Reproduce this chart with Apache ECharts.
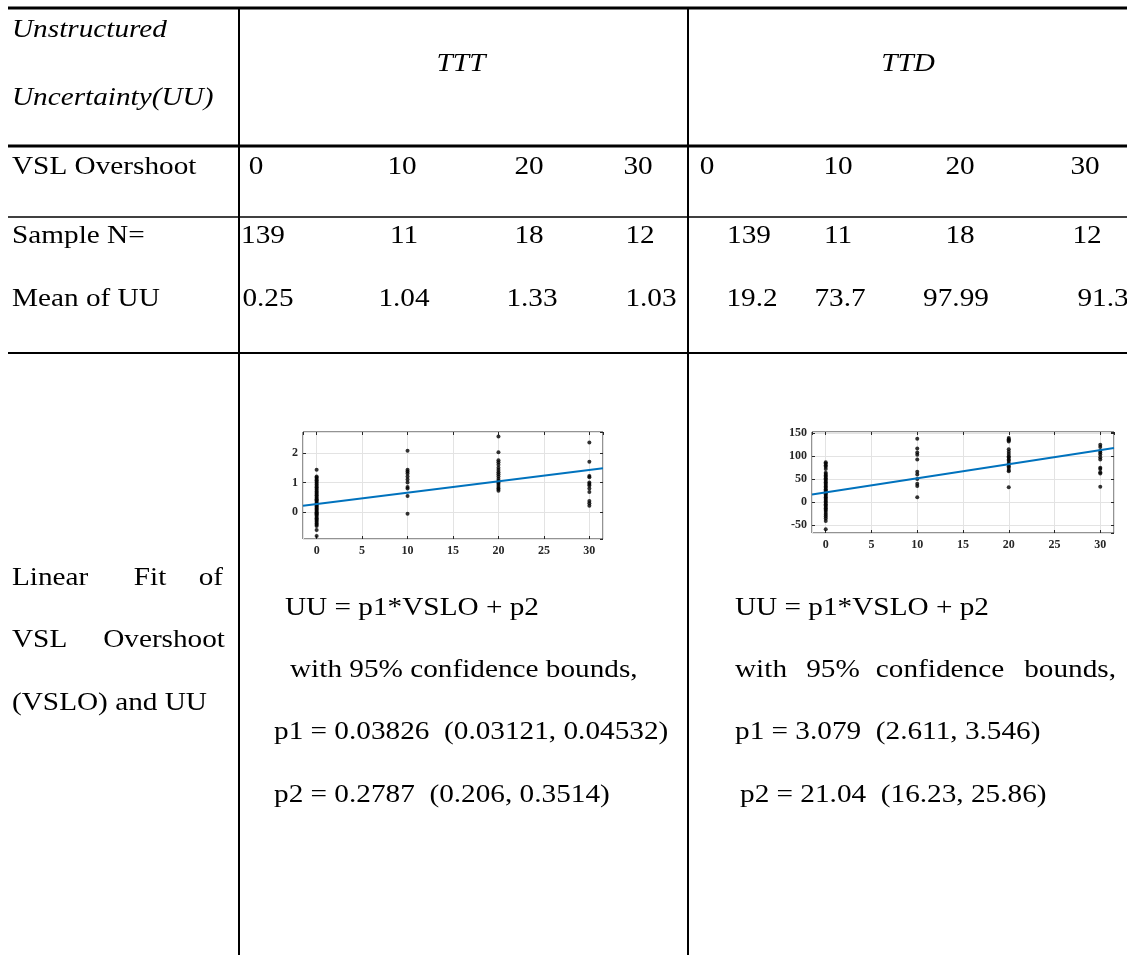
<!DOCTYPE html>
<html><head><meta charset="utf-8">
<script src="https://cdn.jsdelivr.net/npm/echarts@6/dist/echarts.min.js"></script>
<style>html,body{margin:0;padding:0;background:#fff}#c{width:1127px;height:955px}</style>
</head><body><div id="c"></div>
<script>
// ---------- table data ----------
const headerLeft = ['Unstructured', 'Uncertainty(UU)'];
const groups = ['TTT', 'TTD'];
const vslOvershoot = ['0', '10', '20', '30'];
const sampleN_TTT = ['139', '11', '18', '12'];
const sampleN_TTD = ['139', '11', '18', '12'];
const meanUU_TTT = ['0.25', '1.04', '1.33', '1.03'];
const meanUU_TTD = ['19.2', '73.7', '97.99', '91.3'];
const rowLabels = ['VSL Overshoot', 'Sample N=', 'Mean of UU'];
// fit results: [estimate, lower, upper]
const p1_TTT = ['0.03826', '0.03121', '0.04532'];
const p2_TTT = ['0.2787', '0.206', '0.3514'];
const p1_TTD = ['3.079', '2.611', '3.546'];
const p2_TTD = ['21.04', '16.23', '25.86'];

// ---------- scatter data (VSL overshoot -> UU) ----------
const ttt_x0 = [-0.8, -0.6, -0.46, -0.42, -0.38, -0.33, -0.29, -0.24, -0.2, -0.16, -0.11, -0.07, -0.03, 0.0, 0.04, 0.08, 0.12, 0.15, 0.19, 0.23, 0.27, 0.31, 0.35, 0.4, 0.44, 0.48, 0.52, 0.57, 0.61, 0.66, 0.7, 0.75, 0.79, 0.84, 0.88, 0.93, 0.98, 1.03, 1.08, 1.12, 1.17, 1.2, 1.43];
const ttt_x10 = [2.07, 1.43, 1.37, 1.3, 1.2, 1.1, 1.0, 0.85, 0.8, 0.55, -0.05];
const ttt_x20 = [2.55, 2.02, 1.75, 1.68, 1.6, 1.5, 1.42, 1.35, 1.28, 1.2, 1.12, 1.05, 1.0, 0.95, 0.88, 0.82, 0.78, 0.72];
const ttt_x30 = [2.35, 1.7, 1.22, 1.18, 1.0, 0.95, 0.9, 0.8, 0.68, 0.38, 0.3, 0.22];

const ttd_x0 = [-60, -42, -36, -32, -28, -24, -20, -17, -14, -11, -8, -5, -2, 1, 4, 7, 10, 13, 16, 19, 22, 25, 28, 31, 34, 37, 40, 43, 46, 49, 52, 55, 58, 61, 64, 72, 77, 80, 84, 87];
const ttd_x10 = [138, 117, 108, 103, 93, 66, 60, 50, 40, 35, 10];
const ttd_x20 = [140, 137, 135, 132, 115, 110, 105, 100, 97, 93, 90, 85, 82, 78, 75, 70, 67, 32];
const ttd_x30 = [125, 120, 112, 108, 104, 98, 93, 75, 72, 65, 62, 33];

const xLevels = [0, 10, 20, 30];

function pts(levels, cols) {
  const out = [];
  levels.forEach((lv, i) => cols[i].forEach(v => out.push([lv, v])));
  return out;
}
const tttPts = pts(xLevels, [ttt_x0, ttt_x10, ttt_x20, ttt_x30]);
const ttdPts = pts(xLevels, [ttd_x0, ttd_x10, ttd_x20, ttd_x30]);

const XMIN = -1.5, XMAX = 31.5;
function fitLine(p1, p2) {
  const a = parseFloat(p1[0]), b = parseFloat(p2[0]);
  return [[XMIN, a * XMIN + b], [XMAX, a * XMAX + b]];
}

// ---------- layout helpers ----------
const FONT = 'Liberation Serif';
const FS = 25, SX = 1.17;
function txt(s, x, y, align, italic) {
  return {
    type: 'text', x: x, y: y, scaleX: SX, z: 10,
    style: {
      text: s, fill: '#000',
      font: (italic ? 'italic ' : '') + FS + 'px "' + FONT + '"',
      textAlign: align || 'left', textVerticalAlign: 'middle'
    }
  };
}
function hline(y, x1, x2, w) {
  return { type: 'line', shape: { x1: x1, y1: y, x2: x2, y2: y }, style: { stroke: '#000', lineWidth: w }, z: 10 };
}
function vline(x, y1, y2, w) {
  return { type: 'line', shape: { x1: x, y1: y1, x2: x, y2: y2 }, style: { stroke: '#000', lineWidth: w }, z: 10 };
}

const g = [];
// lines
g.push(hline(8, 8, 1127, 3));
g.push(hline(146, 8, 1127, 3));
g.push(hline(217, 8, 1127, 1.5));
g.push(hline(353, 8, 1127, 2));
g.push(vline(239, 9, 955, 2));
g.push(vline(688, 9, 955, 2));

// header
g.push(txt(headerLeft[0], 12, 30, 'left', true));
g.push(txt(headerLeft[1], 12, 98, 'left', true));
g.push(txt(groups[0], 461, 64, 'center', true));
g.push(txt(groups[1], 908, 64, 'center', true));

// row labels
const rowY = [167, 236, 299];
rowLabels.forEach((s, i) => g.push(txt(s, 12, rowY[i], 'left')));

// cell x centres
const cxTTT = [[256, 402, 529, 638], [263, 404, 529, 640], [268, 404, 532, 651]];
const cxTTD = [[707, 838, 960, 1085], [749, 838, 960, 1087], [752, 840, 956, 1103]];
const tttRows = [vslOvershoot, sampleN_TTT, meanUU_TTT];
const ttdRows = [vslOvershoot, sampleN_TTD, meanUU_TTD];
tttRows.forEach((row, r) => row.forEach((s, c) => g.push(txt(s, cxTTT[r][c], rowY[r], 'center'))));
ttdRows.forEach((row, r) => row.forEach((s, c) => g.push(txt(s, cxTTD[r][c], rowY[r], 'center'))));

// linear fit label column (justified)
g.push(txt('Linear', 12, 578, 'left'));
g.push(txt('Fit', 150, 578, 'center'));
g.push(txt('of', 223, 578, 'right'));
g.push(txt('VSL', 12, 640, 'left'));
g.push(txt('Overshoot', 225, 640, 'right'));
g.push(txt('(VSLO) and UU', 12, 703, 'left'));

// fit texts
const eq = 'UU = p1*VSLO + p2';
g.push(txt(eq, 285, 608, 'left'));
g.push(txt('with 95% confidence bounds,', 290, 670, 'left'));
g.push(txt('p1 = ' + p1_TTT[0] + '  (' + p1_TTT[1] + ', ' + p1_TTT[2] + ')', 274, 732, 'left'));
g.push(txt('p2 = ' + p2_TTT[0] + '  (' + p2_TTT[1] + ', ' + p2_TTT[2] + ')', 274, 795, 'left'));

g.push(txt(eq, 735, 608, 'left'));
g.push(txt('with', 735, 670, 'left'));
g.push(txt('95%', 833, 670, 'center'));
g.push(txt('confidence', 940, 670, 'center'));
g.push(txt('bounds,', 1116, 670, 'right'));
g.push(txt('p1 = ' + p1_TTD[0] + '  (' + p1_TTD[1] + ', ' + p1_TTD[2] + ')', 735, 732, 'left'));
g.push(txt('p2 = ' + p2_TTD[0] + '  (' + p2_TTD[1] + ', ' + p2_TTD[2] + ')', 740, 795, 'left'));

// ---------- plots ----------
const tickFont = { fontFamily: FONT, fontWeight: 'bold', fontSize: 12, color: '#262626' };
function xAx(gi, pos) {
  const main = pos === 'bottom';
  return {
    type: 'value', gridIndex: gi, position: pos, min: XMIN, max: XMAX, splitNumber: 7,
    axisLine: { show: false, onZero: false },
    axisTick: { show: true, inside: true, length: 3, lineStyle: { color: '#262626' } },
    axisLabel: { show: main, margin: 6, showMinLabel: false, showMaxLabel: false, ...tickFont },
    splitLine: { show: main, lineStyle: { color: '#e3e3e3', width: 1 } }
  };
}
function yAx(gi, pos, min, max, split) {
  const main = pos === 'left';
  return {
    type: 'value', gridIndex: gi, position: pos, min: min, max: max, splitNumber: split,
    axisLine: { show: false, onZero: false },
    axisTick: { show: true, inside: true, length: 3, lineStyle: { color: '#262626' } },
    axisLabel: { show: main, margin: 5, showMinLabel: false, showMaxLabel: false, ...tickFont },
    splitLine: { show: main, lineStyle: { color: '#e3e3e3', width: 1 } }
  };
}
const gridStyle = { show: true, borderColor: '#262626', borderWidth: 1, backgroundColor: '#fff' };

const option = {
  animation: false,
  backgroundColor: '#fff',
  grid: [
    { left: 303, top: 432, width: 300, height: 107, ...gridStyle },
    { left: 812, top: 432, width: 302, height: 101, ...gridStyle }
  ],
  xAxis: [xAx(0, 'bottom'), xAx(0, 'top'), xAx(1, 'bottom'), xAx(1, 'top')],
  yAxis: [yAx(0, 'left', -0.9, 2.7, 4), yAx(0, 'right', -0.9, 2.7, 4),
          yAx(1, 'left', -68, 153, 4), yAx(1, 'right', -68, 153, 4)],
  series: [
    { type: 'scatter', xAxisIndex: 0, yAxisIndex: 0, data: tttPts, symbolSize: 4, itemStyle: { color: '#000' }, z: 3 },
    { type: 'line', xAxisIndex: 0, yAxisIndex: 0, data: fitLine(p1_TTT, p2_TTT), symbol: 'none', lineStyle: { color: '#0072BD', width: 2 }, z: 4 },
    { type: 'scatter', xAxisIndex: 2, yAxisIndex: 2, data: ttdPts, symbolSize: 4, itemStyle: { color: '#000' }, z: 3 },
    { type: 'line', xAxisIndex: 2, yAxisIndex: 2, data: fitLine(p1_TTD, p2_TTD), symbol: 'none', lineStyle: { color: '#0072BD', width: 2 }, z: 4 }
  ],
  graphic: { elements: g }
};
const chart = echarts.init(document.getElementById('c'), null, { renderer: 'canvas' });
chart.setOption(option);
</script></body></html>
